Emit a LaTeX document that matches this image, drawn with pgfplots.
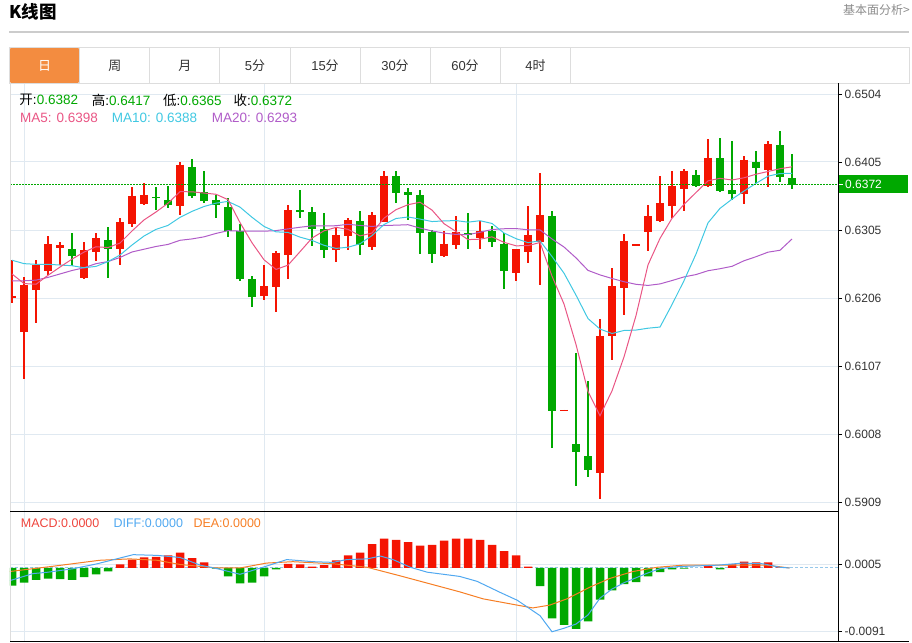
\documentclass[border=0pt]{standalone}
\usepackage{pgfplots}
\pgfplotsset{compat=1.18}
\usepackage{pgfplotstable}
\usepackage{fontspec}
\setmainfont{Liberation Sans}
\newfontfamily\cjk{Noto Sans CJK SC}

\definecolor{kred}{RGB}{244,20,2}
\definecolor{kgreen}{RGB}{0,168,0}
\definecolor{ma5c}{RGB}{233,85,132}
\definecolor{ma10c}{RGB}{64,200,226}
\definecolor{ma20c}{RGB}{176,92,200}
\definecolor{gridc}{RGB}{224,233,241}
\definecolor{tabline}{RGB}{221,221,221}
\definecolor{headline}{RGB}{204,204,204}
\definecolor{taborange}{RGB}{243,140,64}
\definecolor{diffc}{RGB}{80,168,240}
\definecolor{deac}{RGB}{246,126,36}
\definecolor{macdred}{RGB}{238,68,60}
\definecolor{zeroc}{RGB}{150,200,235}
\definecolor{txt}{RGB}{51,51,51}

% daily candles, i = bar number; red = close above open
\pgfplotstableread{
i O H L C
0 0.6207 0.6262 0.6200 0.6210
1 0.6158 0.6237 0.6089 0.6226
2 0.6218 0.6262 0.6171 0.6255
3 0.6246 0.6297 0.6241 0.6285
4 0.6280 0.6289 0.6255 0.6284
6 0.6236 0.6288 0.6235 0.6277
7 0.6274 0.6302 0.6261 0.6294
9 0.6278 0.6323 0.6255 0.6317
10 0.6315 0.6369 0.6311 0.6356
11 0.6344 0.6374 0.6342 0.6357
14 0.6341 0.6405 0.6328 0.6401
21 0.6210 0.6255 0.6204 0.6224
22 0.6223 0.6275 0.6187 0.6273
23 0.6269 0.6342 0.6235 0.6335
27 0.6277 0.6311 0.6259 0.6298
28 0.6297 0.6324 0.6277 0.6321
30 0.6281 0.6332 0.6277 0.6328
31 0.6318 0.6392 0.6317 0.6385
36 0.6268 0.6305 0.6267 0.6286
37 0.6284 0.6326 0.6278 0.6303
39 0.6295 0.6319 0.6279 0.6305
42 0.6244 0.6279 0.6232 0.6278
43 0.6274 0.6341 0.6258 0.6299
44 0.6289 0.6389 0.6226 0.6328
46 0.6042 0.6044 0.6042 0.6044
49 0.5952 0.6176 0.5914 0.6152
50 0.6151 0.6250 0.6117 0.6224
51 0.6222 0.6300 0.6182 0.6290
52 0.6283 0.6285 0.6283 0.6285
53 0.6303 0.6343 0.6276 0.6326
54 0.6319 0.6384 0.6317 0.6345
55 0.6341 0.6392 0.6324 0.6370
56 0.6366 0.6395 0.6334 0.6392
58 0.6370 0.6438 0.6369 0.6411
61 0.6359 0.6414 0.6344 0.6408
63 0.6393 0.6436 0.6368 0.6431
}\upk

\pgfplotstableread{
i O H L C
5 0.6279 0.6301 0.6254 0.6268
8 0.6292 0.6310 0.6236 0.6279
12 0.6354 0.6368 0.6335 0.6352
13 0.6349 0.6370 0.6338 0.6343
15 0.6398 0.6409 0.6352 0.6355
16 0.6362 0.6392 0.6345 0.6348
17 0.6349 0.6357 0.6323 0.6343
18 0.6340 0.6353 0.6296 0.6304
19 0.6304 0.6314 0.6232 0.6234
20 0.6234 0.6239 0.6194 0.6208
24 0.6335 0.6364 0.6323 0.6332
25 0.6332 0.6339 0.6283 0.6307
26 0.6307 0.6331 0.6265 0.6277
29 0.6319 0.6334 0.6270 0.6284
32 0.6384 0.6392 0.6345 0.6360
33 0.6361 0.6367 0.6321 0.6357
34 0.6357 0.6364 0.6271 0.6302
35 0.6303 0.6306 0.6258 0.6271
38 0.6302 0.6331 0.6278 0.6298
40 0.6305 0.6312 0.6281 0.6288
41 0.6285 0.6301 0.6220 0.6246
45 0.6327 0.6333 0.5988 0.6043
47 0.5994 0.6127 0.5933 0.5983
48 0.5977 0.6086 0.5947 0.5957
57 0.6386 0.6394 0.6368 0.6370
59 0.6411 0.6440 0.6361 0.6363
60 0.6364 0.6436 0.6350 0.6358
62 0.6405 0.6421 0.6375 0.6396
64 0.6430 0.6450 0.6376 0.6383
65 0.6382 0.6417 0.6365 0.6372
}\downk

% moving averages
\pgfplotstableread{
i m5 m10 m20
0 0.6242 0.6262 0.6232
1 0.6228 0.6257 0.6232
2 0.6227 0.6256 0.6233
3 0.6240 0.6256 0.6237
4 0.62520 0.6255 0.6242
5 0.62636 0.6254 0.6247
6 0.62738 0.6251 0.6251
7 0.62816 0.6253 0.6257
8 0.62804 0.6260 0.6260
9 0.62870 0.62695 0.6266
10 0.63046 0.62841 0.6274
11 0.63206 0.62972 0.6278
12 0.63322 0.63069 0.6282
13 0.63450 0.63127 0.6285
14 0.63618 0.63244 0.6291
15 0.63616 0.63331 0.6293
16 0.63598 0.63402 0.6296
17 0.63580 0.63451 0.6301
18 0.63502 0.63476 0.6305
19 0.63168 0.63393 0.63044
20 0.62874 0.63245 0.63043
21 0.62626 0.63112 0.63042
22 0.62486 0.63033 0.63051
23 0.62548 0.63025 0.63076
24 0.62744 0.62956 0.63100
25 0.62942 0.62908 0.63120
26 0.63048 0.62837 0.63120
27 0.63098 0.62792 0.63122
28 0.63070 0.62809 0.63143
29 0.62974 0.62859 0.63126
30 0.63016 0.62979 0.63112
31 0.63232 0.63140 0.63126
32 0.63356 0.63227 0.63130
33 0.63428 0.63249 0.63137
34 0.63464 0.63219 0.63088
35 0.63350 0.63183 0.63046
36 0.63152 0.63192 0.63015
37 0.63038 0.63197 0.62995
38 0.62920 0.63174 0.62992
39 0.62926 0.63195 0.63027
40 0.62960 0.63155 0.63067
41 0.62880 0.63016 0.63078
42 0.62830 0.62934 0.63081
43 0.62832 0.62876 0.63063
44 0.62878 0.62902 0.63061
45 0.62388 0.62674 0.62929
46 0.61982 0.62431 0.62812
47 0.61392 0.62111 0.62654
48 0.60708 0.61770 0.62472
49 0.60356 0.61617 0.62406
50 0.60718 0.61553 0.62354
51 0.61212 0.61597 0.62307
52 0.61814 0.61603 0.62269
53 0.62552 0.61630 0.62253
54 0.62938 0.61647 0.62275
55 0.63230 0.61974 0.62324
56 0.63434 0.62323 0.62377
57 0.63606 0.62710 0.62411
58 0.63776 0.63164 0.62467
59 0.63812 0.63375 0.62496
60 0.63788 0.63509 0.62531
61 0.63820 0.63627 0.62612
62 0.63872 0.63739 0.62671
63 0.63912 0.63844 0.62737
64 0.63952 0.63882 0.62765
65 0.63980 0.63884 0.62929
}\ma

% MACD histogram
\pgfplotstableread{
i h
9 0.0005
10 0.0012
11 0.0015
12 0.0016
13 0.0018
14 0.0022
15 0.0014
16 0.0008
23 0.0006
24 0.0005
25 0.0002
26 0.0004
27 0.0011
28 0.0018
29 0.0022
30 0.0034
31 0.0042
32 0.0040
33 0.0037
34 0.0032
35 0.0033
36 0.0039
37 0.0042
38 0.0042
39 0.0040
40 0.0033
41 0.0024
42 0.0018
43 0.0002
58 0.0004
60 0.0005
61 0.0009
62 0.0008
63 0.0008
64 0.0001
}\macdup

\pgfplotstableread{
i h
0 -0.0025
1 -0.0021
2 -0.0017
3 -0.0015
4 -0.0016
5 -0.0017
6 -0.0013
7 -0.0009
8 -0.0005
17 -0.0001
18 -0.0012
19 -0.0022
20 -0.0021
21 -0.0012
22 -0.0002
44 -0.0026
45 -0.0072
46 -0.0081
47 -0.0087
48 -0.0076
49 -0.0045
50 -0.0032
51 -0.0023
52 -0.0020
53 -0.0012
54 -0.0006
55 -0.0002
56 -0.0001
59 -0.0002
}\macddn

\pgfplotstableread{
i v
-0.17 -0.0018
1.75 -0.0008
3 -0.0006
5.1 -0.0001
7.1 0.0006
10.1 0.0019
12.1 0.0018
14 0.0015
15.7 0.0004
17.1 -0.0001
19 -0.0009
20.9 0.0001
22.9 0.0012
25.1 0.0009
26.75 0.0008
27.9 0.0012
29.6 0.0013
30.7 0.0017
31.75 0.0012
33.2 0.0001
34.6 -0.0006
37.3 -0.0012
38.75 -0.0019
40.7 -0.0035
42.1 -0.0046
44 -0.0068
45 -0.0091
46 -0.0086
47 -0.0080
48 -0.0067
49 -0.0043
50 -0.0030
51 -0.0021
52 -0.0014
53 -0.0007
54 -0.0001
55.5 0.0002
58.75 0.0004
60.9 0.0007
62.6 0.0006
64 0.0001
64.8 0.0000
}\diff

\pgfplotstableread{
i v
-0.17 -0.0005
3.2 0.0002
7.3 0.0011
9.8 0.0013
12.1 0.0011
14 0.0005
17.1 0.0000
19 0.0000
21.2 0.0007
23.4 0.0009
26.75 0.0006
29.6 0.0001
32.3 -0.0011
37.3 -0.0034
39.25 -0.0044
42.1 -0.0053
43.4 -0.0057
44.8 -0.0053
46.25 -0.0044
48.2 -0.0027
49.8 -0.0015
51.75 -0.0005
53.75 0.0001
55.9 0.0004
60.1 0.0004
62.9 0.0004
64.8 0.0000
}\dea

\pgfplotsset{
  panel/.style={
    scale only axis, width=828bp,
    xmin=-0.1667, xmax=68.833,
    axis line style={draw=none},
    scaled y ticks=false,
    xtick={1,21,42}, xticklabels={}, xtick style={draw=none}, xmajorgrids,
    ymajorgrids, ytick pos=right, tick align=outside, major tick length=4bp,
    ytick style={draw=black, line width=0.8bp},
    yticklabel style={font=\fontsize{12bp}{14bp}\selectfont, text=txt, inner sep=0pt, xshift=2.5bp},
    major grid style={draw=gridc, line width=1bp},
  },
  wick/.style={draw=none, error bars/.cd, y dir=both, y explicit, error mark=none,
    error bar style={draw=#1, line width=1.2bp}},
}

\begin{document}
\begin{tikzpicture}[x=1bp,y=1bp]
% header
\node[anchor=west, inner sep=0pt, font={\cjk\bfseries\fontsize{17.5bp}{19bp}\selectfont}] at (9,631) {K线图};
\node[anchor=east, inner sep=0pt, text={rgb,255:red,140;green,140;blue,140}, font={\cjk\fontsize{12bp}{14bp}\selectfont}] at (910,633) {基本面分析>};
\draw[headline, line width=1.2bp] (9,611) -- (909,611);

% period tabs
\fill[taborange, rounded corners=1.5bp] (9.5,560) rectangle (79.5,595);
\draw[tabline, line width=1bp] (9,559.5) rectangle (909,595.5);
\foreach \xx in {79.8,149.8,219.7,290.2,360.1,430,500.6,570.5}
  \draw[tabline, line width=1bp] (\xx,559.5) -- (\xx,595.5);
\begin{scope}[every node/.style={font={\fontsize{13bp}{15bp}\selectfont}, text=txt}]
\node[text=white] at (44.5,577.5) {\cjk 日};
\node at (114.8,577.5) {\cjk 周};
\node at (184.8,577.5) {\cjk 月};
\node at (255,577.5) {5{\cjk 分}};
\node at (325,577.5) {15{\cjk 分}};
\node at (395,577.5) {30{\cjk 分}};
\node at (465,577.5) {60{\cjk 分}};
\node at (535.5,577.5) {4{\cjk 时}};
\end{scope}

% candlestick panel
\begin{axis}[panel, at={(10bp,131bp)}, anchor=south west, height=428bp,
  ymin=0.58954, ymax=0.65186,
  ytick={0.5909,0.6008,0.6107,0.6206,0.6305,0.6405,0.6504},
  yticklabels={0.5909,0.6008,0.6107,0.6206,0.6305,0.6405,0.6504}]
\addplot[wick=kred] table[x=i, y=C, y error plus expr=\thisrow{H}-\thisrow{C}, y error minus expr=\thisrow{C}-\thisrow{L}] {\upk};
\addplot[draw=none, error bars/.cd, y dir=minus, y explicit, error mark=none, error bar style={draw=kred, line width=8.5bp}]
  table[x=i, y=C, y error minus expr=\thisrow{C}-\thisrow{O}] {\upk};
\addplot[wick=kgreen] table[x=i, y=C, y error plus expr=\thisrow{H}-\thisrow{C}, y error minus expr=\thisrow{C}-\thisrow{L}] {\downk};
\addplot[draw=none, error bars/.cd, y dir=plus, y explicit, error mark=none, error bar style={draw=kgreen, line width=8.5bp}]
  table[x=i, y=C, y error plus expr=\thisrow{O}-\thisrow{C}] {\downk};
\addplot[ma20c, line width=1bp] table[x=i, y=m20] {\ma};
\addplot[ma10c, line width=1bp] table[x=i, y=m10] {\ma};
\addplot[ma5c, line width=1bp] table[x=i, y=m5] {\ma};
\draw[kgreen, line width=1bp, dash pattern=on 1.5bp off 1.5bp] (axis cs:-0.1667,0.6372) -- (axis cs:68.833,0.6372);
\end{axis}

% MACD panel
\begin{axis}[panel, at={(10bp,1bp)}, anchor=south west, height=130bp,
  ymin=-0.01056, ymax=0.00799,
  ytick={-0.0091,0.0005}, yticklabels={-0.0091,0.0005}]
\draw[zeroc, line width=1bp, dash pattern=on 3bp off 2bp] (axis cs:-0.1667,0) -- (axis cs:68.833,0);
\addplot[ybar, bar width=8.5bp, bar shift=0pt, fill=kred, draw=none] table[x=i, y=h] {\macdup};
\addplot[ybar, bar width=8.5bp, bar shift=0pt, fill=kgreen, draw=none] table[x=i, y=h] {\macddn};
\addplot[deac, line width=1bp] table[x=i, y=v] {\dea};
\addplot[diffc, line width=1bp] table[x=i, y=v] {\diff};
\end{axis}

% frame lines
\draw[tabline, line width=1bp] (10,1) -- (10,559.5);
\draw[black, line width=1bp] (10,131) -- (838,131);
\draw[black, line width=1bp] (10,1) -- (909,1);
\draw[black, line width=1bp] (838,1) -- (838,559.5);

% last price tag
\fill[kgreen] (839,449.5) rectangle (908,467.5);
\draw[white, line width=0.8bp] (838.5,458.5) -- (842.5,458.5);
\node[anchor=west, inner sep=0pt, text=white, font={\fontsize{12bp}{14bp}\selectfont}] at (845,458.5) {0.6372};

% readouts
\begin{scope}[every node/.style={anchor=west, inner sep=0pt, font={\fontsize{13.5bp}{15bp}\selectfont}}]
\node at (19.3,543) {{\cjk 开}:\textcolor{kgreen}{0.6382}};
\node at (91.7,543) {{\cjk 高}:\textcolor{kgreen}{0.6417}};
\node at (163,543) {{\cjk 低}:\textcolor{kgreen}{0.6365}};
\node at (233.3,543) {{\cjk 收}:\textcolor{kgreen}{0.6372}};
\node[text=ma5c] at (20,525) {MA5: 0.6398};
\node[text=ma10c] at (111.7,525) {MA10: 0.6388};
\node[text=ma20c] at (211.7,525) {MA20: 0.6293};
\end{scope}
\begin{scope}[every node/.style={anchor=west, inner sep=0pt, font={\fontsize{12.5bp}{14bp}\selectfont}}]
\node[text=macdred] at (20.7,120) {MACD:0.0000};
\node[text=diffc] at (113.3,120) {DIFF:0.0000};
\node[text=deac] at (193.3,120) {DEA:0.0000};
\end{scope}

\pgfresetboundingbox
\path (0,0) rectangle (912,643);
\end{tikzpicture}
\end{document}
